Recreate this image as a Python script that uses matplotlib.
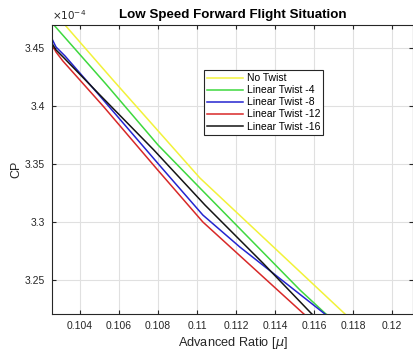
import numpy as np
import matplotlib
matplotlib.use('Agg')
import matplotlib.pyplot as plt
from matplotlib.ticker import FuncFormatter, MultipleLocator

plt.rcParams['font.family'] = ['Liberation Sans', 'DejaVu Sans']

# values (CP in units of 1e-4)
mu_no_twist = [0.10297, 0.10323, 0.10569, 0.11015, 0.11759, 0.11784]
cp_no_twist = [3.4747, 3.4698, 3.4224, 3.3379, 3.2207, 3.2164]

mu_twist_4 = [0.10240, 0.10266, 0.10533, 0.10800, 0.11015, 0.11528, 0.11661, 0.11690]
cp_twist_4 = [3.4745, 3.4698, 3.4189, 3.3664, 3.3293, 3.2414, 3.2207, 3.2180]

mu_twist_8 = [0.10250, 0.10277, 0.10323, 0.10502, 0.10820, 0.11030, 0.11220, 0.11656, 0.11680]
cp_twist_8 = [3.4600, 3.4508, 3.4431, 3.4086, 3.3465, 3.3060, 3.2784, 3.2207, 3.2180]

mu_twist_12 = [0.10250, 0.10277, 0.10312, 0.10518, 0.10794, 0.11030, 0.11548, 0.11570]
cp_twist_12 = [3.4548, 3.4465, 3.4388, 3.4000, 3.3457, 3.3000, 3.2207, 3.2180]

mu_twist_16 = [0.10250, 0.10277, 0.10318, 0.10502, 0.10779, 0.11041, 0.11338, 0.11589, 0.11610]
cp_twist_16 = [3.4556, 3.4483, 3.4414, 3.4095, 3.3620, 3.3146, 3.2646, 3.2207, 3.2180]

labels = ['No Twist', 'Linear Twist -4', 'Linear Twist -8', 'Linear Twist -12', 'Linear Twist -16']
colors = ['#f2f23a', '#3ed83e', '#2424d0', '#d82828', '#141414']

series = [(mu_no_twist, cp_no_twist), (mu_twist_4, cp_twist_4), (mu_twist_8, cp_twist_8),
          (mu_twist_12, cp_twist_12), (mu_twist_16, cp_twist_16)]

fig = plt.figure(figsize=(4.14, 3.5), dpi=100)
ax = fig.add_axes([52/414, 36/350, 361/414, 289/350])

for (mu, cp), lab, col in zip(series, labels, colors):
    ax.plot(mu, np.array(cp) * 1e-4, color=col, linewidth=1.1, label=lab)

ax.set_xlim(0.102564, 0.121077)
ax.set_ylim(3.2207e-4, 3.4698e-4)
ax.xaxis.set_major_locator(MultipleLocator(0.002))
ax.yaxis.set_major_locator(MultipleLocator(0.05e-4))
ax.xaxis.set_major_formatter(FuncFormatter(lambda v, p: f'{v:g}'))
ax.yaxis.set_major_formatter(FuncFormatter(lambda v, p: f'{round(v * 1e4, 4):g}'))

ax.grid(True, color='#e0e0e0', linewidth=0.8)
ax.set_axisbelow(True)
ax.tick_params(direction='in', top=True, right=True, labelsize=7.5, colors='#262626',
               length=3, width=0.8, pad=5)
for s in ax.spines.values():
    s.set_color('#262626')
    s.set_linewidth(0.8)

ax.text(0.0, 1.01, r'$\times10^{-4}$', transform=ax.transAxes, fontsize=7.5,
        color='#262626', ha='left', va='bottom')

ax.set_title('Low Speed Forward Flight Situation', fontsize=9.6, fontweight='bold', pad=5)
ax.set_xlabel(r'Advanced Ratio [$\mu$]', fontsize=9.2, color='#262626', labelpad=3)
ax.set_ylabel('CP', fontsize=9, color='#262626', labelpad=2)

leg = ax.legend(loc='upper left', bbox_to_anchor=(0.421, 0.844), fontsize=7.5,
                frameon=True, fancybox=False, edgecolor='#262626', framealpha=1,
                handlelength=3.4, handletextpad=0.4, labelspacing=0.2, borderpad=0.3,
                borderaxespad=0)
leg.get_frame().set_linewidth(0.8)

plt.savefig('out.png', dpi=100)
